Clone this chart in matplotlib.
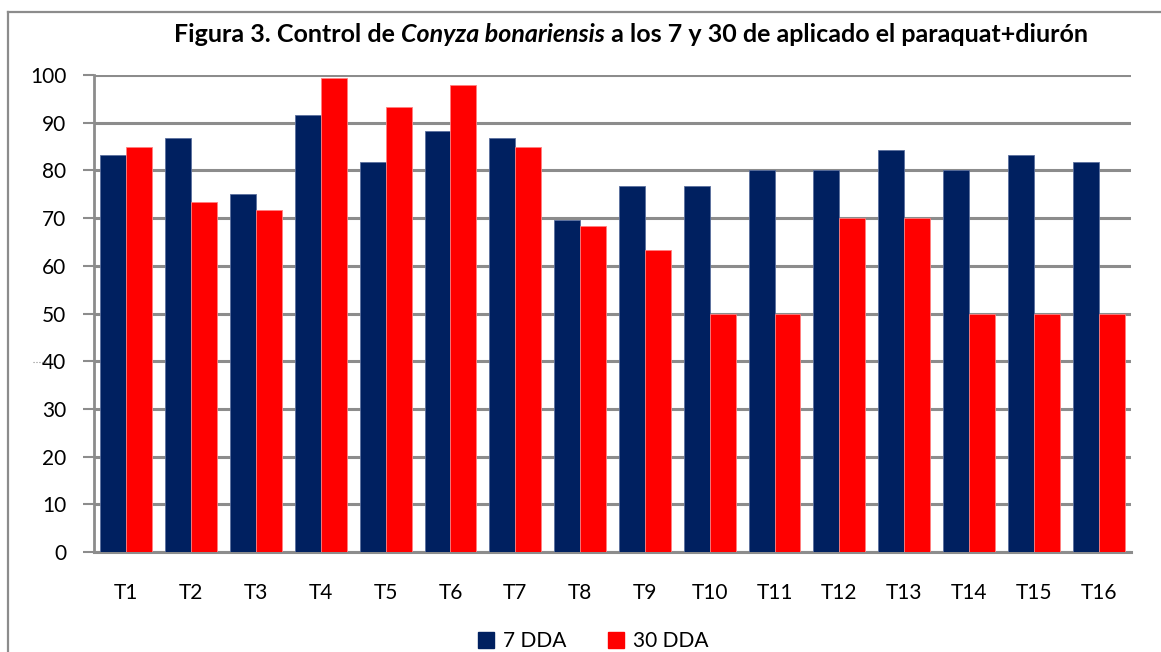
import numpy as np
import matplotlib.pyplot as plt
from matplotlib.patches import Rectangle
from matplotlib.lines import Line2D

plt.rcParams['font.family'] = ['Lato', 'DejaVu Sans']

categories = ['T1', 'T2', 'T3', 'T4', 'T5', 'T6', 'T7', 'T8',
              'T9', 'T10', 'T11', 'T12', 'T13', 'T14', 'T15', 'T16']
dda7 = [83.3, 86.7, 75.0, 91.7, 81.7, 88.3, 86.7, 69.7,
        76.7, 76.7, 80.0, 80.0, 84.3, 80.0, 83.3, 81.7]
dda30 = [85.0, 73.3, 71.7, 99.4, 93.3, 98.0, 85.0, 68.3,
         63.3, 50.0, 50.0, 70.0, 70.0, 50.0, 50.0, 50.0]
series_names = ['7 DDA', '30 DDA']
colors = ['#002060', '#ff0000']

W, H = 1161, 652
fig = plt.figure(figsize=(W / 100, H / 100), dpi=100)

# outer chart border (open on right and bottom, as in the crop)
fig.add_artist(Line2D([8 / W, 8 / W], [0, 1 - 12 / H], color='#8c8c8c', lw=1.6,
                      transform=fig.transFigure))
fig.add_artist(Line2D([8 / W, 1], [1 - 12 / H, 1 - 12 / H], color='#8c8c8c', lw=1.6,
                      transform=fig.transFigure))

ax = fig.add_axes([94 / W, 1 - 552 / H, (1131 - 94) / W, (552 - 75) / H])
x = np.arange(len(categories))
w = 0.4
ax.bar(x - w / 2, dda7, w, color=colors[0], edgecolor='#5a6f9e', linewidth=0.6, zorder=3)
ax.bar(x + w / 2, dda30, w, color=colors[1], edgecolor='#ff8080', linewidth=0.6, zorder=3)

ax.set_xlim(-0.5, len(categories) - 0.5)
ax.set_ylim(0, 100)
ax.set_yticks(range(0, 101, 10))
ax.set_xticks(x)
ax.set_xticklabels(categories)
ax.grid(axis='y', color='#8c8c8c', lw=2.2, zorder=0)
ax.tick_params(axis='y', length=8, width=1.5, color='#8c8c8c', labelsize=15, pad=12)
ax.tick_params(axis='x', length=0, labelsize=15, pad=22)
for s in ['top', 'right']:
    ax.spines[s].set_visible(False)
ax.spines['left'].set_color('#8c8c8c')
ax.spines['left'].set_linewidth(2)
ax.spines['bottom'].set_color('#8c8c8c')
ax.spines['bottom'].set_linewidth(2.2)

# small stray dash next to the 40 label
fig.add_artist(Line2D([33 / W, 46 / W], [1 - 362 / H, 1 - 362 / H], color='#8c8c8c',
                      lw=0.8, ls=':', transform=fig.transFigure))

# title with italic species name
parts = [('Figura 3. Control de ', 'normal'), ('Conyza bonariensis', 'italic'),
         (' a los 7 y 30 de aplicado el paraquat+diurón', 'normal')]
renderer = fig.canvas.get_renderer()
texts = []
total = 0
for s, st in parts:
    t = fig.text(0, 1 - 35 / H, s, fontsize=18, fontweight='bold', style=st,
                 va='center', ha='left')
    bw = t.get_window_extent(renderer).width
    texts.append((t, bw))
    total += bw
xpos = 631 - total / 2
for t, bw in texts:
    t.set_x(xpos / W)
    xpos += bw

# legend
handles = [Rectangle((0, 0), 1, 1, color=c) for c in colors]
fig.legend(handles, series_names, loc='center', bbox_to_anchor=(593 / W, 1 - 641 / H),
           ncol=2, frameon=False, fontsize=15, handlelength=0.8, handleheight=0.8,
           columnspacing=2.0, handletextpad=0.4)

fig.savefig('out.png', dpi=100)
